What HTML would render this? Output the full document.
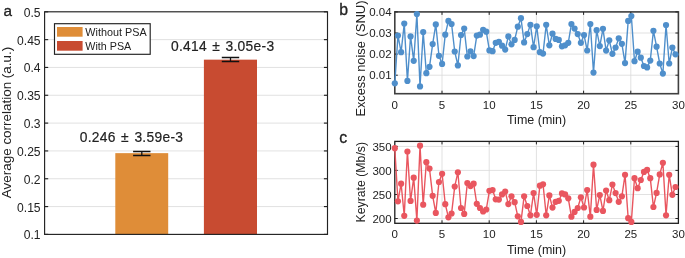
<!DOCTYPE html>
<html><head><meta charset="utf-8"><title>figure</title>
<style>
html,body{margin:0;padding:0;background:#fff;}
body{width:685px;height:258px;overflow:hidden;font-family:"Liberation Sans",sans-serif;}
svg{display:block;will-change:transform;}
text{font-family:"Liberation Sans",sans-serif;fill:#222;}
</style></head><body>
<svg width="685" height="258" viewBox="0 0 685 258">

<g id="panel-a">
<line x1="44.6" x2="327.5" y1="206.58" y2="206.58" stroke="#dcdcdc" stroke-width="0.85"/>
<line x1="44.6" x2="327.5" y1="178.75" y2="178.75" stroke="#dcdcdc" stroke-width="0.85"/>
<line x1="44.6" x2="327.5" y1="150.93" y2="150.93" stroke="#dcdcdc" stroke-width="0.85"/>
<line x1="44.6" x2="327.5" y1="123.10" y2="123.10" stroke="#dcdcdc" stroke-width="0.85"/>
<line x1="44.6" x2="327.5" y1="95.28" y2="95.28" stroke="#dcdcdc" stroke-width="0.85"/>
<line x1="44.6" x2="327.5" y1="67.45" y2="67.45" stroke="#dcdcdc" stroke-width="0.85"/>
<line x1="44.6" x2="327.5" y1="39.63" y2="39.63" stroke="#dcdcdc" stroke-width="0.85"/>
<rect x="115.3" y="153.15" width="52.9" height="81.25" fill="#df8d38"/>
<rect x="203.9" y="59.66" width="53.1" height="174.74" fill="#c84b31"/>
<path d="M133.1 151.50H150.5M133.1 155.50H150.5M141.8 151.50V155.50" stroke="#111" stroke-width="1.3" fill="none"/>
<path d="M221.8 57.50H239.2M221.8 61.50H239.2M230.5 57.50V61.50" stroke="#111" stroke-width="1.3" fill="none"/>
<rect x="44.6" y="11.8" width="282.9" height="222.6" fill="none" stroke="#222" stroke-width="1.15"/>
<line x1="44.6" x2="48.2" y1="234.40" y2="234.40" stroke="#222" stroke-width="1.15"/>
<line x1="327.5" x2="323.9" y1="234.40" y2="234.40" stroke="#222" stroke-width="1.15"/>
<text x="40.6" y="239.40" font-size="12.1" text-anchor="end">0.1</text>
<line x1="44.6" x2="48.2" y1="206.58" y2="206.58" stroke="#222" stroke-width="1.15"/>
<line x1="327.5" x2="323.9" y1="206.58" y2="206.58" stroke="#222" stroke-width="1.15"/>
<text x="40.6" y="211.58" font-size="12.1" text-anchor="end">0.15</text>
<line x1="44.6" x2="48.2" y1="178.75" y2="178.75" stroke="#222" stroke-width="1.15"/>
<line x1="327.5" x2="323.9" y1="178.75" y2="178.75" stroke="#222" stroke-width="1.15"/>
<text x="40.6" y="183.75" font-size="12.1" text-anchor="end">0.2</text>
<line x1="44.6" x2="48.2" y1="150.93" y2="150.93" stroke="#222" stroke-width="1.15"/>
<line x1="327.5" x2="323.9" y1="150.93" y2="150.93" stroke="#222" stroke-width="1.15"/>
<text x="40.6" y="155.93" font-size="12.1" text-anchor="end">0.25</text>
<line x1="44.6" x2="48.2" y1="123.10" y2="123.10" stroke="#222" stroke-width="1.15"/>
<line x1="327.5" x2="323.9" y1="123.10" y2="123.10" stroke="#222" stroke-width="1.15"/>
<text x="40.6" y="128.10" font-size="12.1" text-anchor="end">0.3</text>
<line x1="44.6" x2="48.2" y1="95.28" y2="95.28" stroke="#222" stroke-width="1.15"/>
<line x1="327.5" x2="323.9" y1="95.28" y2="95.28" stroke="#222" stroke-width="1.15"/>
<text x="40.6" y="100.28" font-size="12.1" text-anchor="end">0.35</text>
<line x1="44.6" x2="48.2" y1="67.45" y2="67.45" stroke="#222" stroke-width="1.15"/>
<line x1="327.5" x2="323.9" y1="67.45" y2="67.45" stroke="#222" stroke-width="1.15"/>
<text x="40.6" y="72.45" font-size="12.1" text-anchor="end">0.4</text>
<line x1="44.6" x2="48.2" y1="39.63" y2="39.63" stroke="#222" stroke-width="1.15"/>
<line x1="327.5" x2="323.9" y1="39.63" y2="39.63" stroke="#222" stroke-width="1.15"/>
<text x="40.6" y="44.63" font-size="12.1" text-anchor="end">0.45</text>
<line x1="44.6" x2="48.2" y1="11.80" y2="11.80" stroke="#222" stroke-width="1.15"/>
<line x1="327.5" x2="323.9" y1="11.80" y2="11.80" stroke="#222" stroke-width="1.15"/>
<text x="40.6" y="16.80" font-size="12.1" text-anchor="end">0.5</text>
<text transform="translate(10.7,122.45) rotate(-90)" font-size="13.45" text-anchor="middle">Average correlation (a.u.)</text>
<rect x="54.5" y="23.7" width="95.7" height="30.6" fill="#fff" stroke="#222" stroke-width="1.15"/>
<rect x="57" y="27" width="25.6" height="9.7" fill="#df8d38"/>
<rect x="57" y="41" width="25.6" height="9.7" fill="#c84b31"/>
<text x="85.3" y="36" font-size="11" textLength="61.3" lengthAdjust="spacingAndGlyphs">Without PSA</text>
<text x="85.3" y="50" font-size="11" textLength="46" lengthAdjust="spacingAndGlyphs">With PSA</text>
<text y="142.0" font-size="13.8" letter-spacing="0.3" stroke="#222" stroke-width="0.2"><tspan x="79.7">0.246</tspan><tspan x="121.0">±</tspan><tspan x="134.4">3.59e-3</tspan></text>
<text y="50.5" font-size="13.8" letter-spacing="0.3" stroke="#222" stroke-width="0.2"><tspan x="171.0">0.414</tspan><tspan x="212.2">±</tspan><tspan x="225.5">3.05e-3</tspan></text>
<text x="3.5" y="15.7" font-size="15.3" stroke="#222" stroke-width="0.3">a</text>
</g>
<g id="panel-b">
<line x1="442.00" x2="442.00" y1="11.9" y2="93.7" stroke="#dcdcdc" stroke-width="0.85"/>
<line x1="489.20" x2="489.20" y1="11.9" y2="93.7" stroke="#dcdcdc" stroke-width="0.85"/>
<line x1="536.40" x2="536.40" y1="11.9" y2="93.7" stroke="#dcdcdc" stroke-width="0.85"/>
<line x1="583.60" x2="583.60" y1="11.9" y2="93.7" stroke="#dcdcdc" stroke-width="0.85"/>
<line x1="630.80" x2="630.80" y1="11.9" y2="93.7" stroke="#dcdcdc" stroke-width="0.85"/>
<line x1="394.8" x2="678.4" y1="11.9" y2="11.9" stroke="#dcdcdc" stroke-width="0.85"/>
<line x1="394.8" x2="678.4" y1="33.0" y2="33.0" stroke="#dcdcdc" stroke-width="0.85"/>
<line x1="394.8" x2="678.4" y1="54.1" y2="54.1" stroke="#dcdcdc" stroke-width="0.85"/>
<line x1="394.8" x2="678.4" y1="75.2" y2="75.2" stroke="#dcdcdc" stroke-width="0.85"/>
<clipPath id="clip-panel-b"><rect x="390.8" y="7.9" width="291.59999999999997" height="89.8"/></clipPath>
<rect x="394.8" y="11.9" width="283.59999999999997" height="81.8" fill="none" stroke="#404040" stroke-width="1.6"/>
<text x="394.80" y="109" font-size="11.5" text-anchor="middle">0</text>
<line x1="442.00" x2="442.00" y1="93.7" y2="90.7" stroke="#222" stroke-width="1"/>
<line x1="442.00" x2="442.00" y1="11.9" y2="14.9" stroke="#222" stroke-width="1"/>
<text x="442.00" y="109" font-size="11.5" text-anchor="middle">5</text>
<line x1="489.20" x2="489.20" y1="93.7" y2="90.7" stroke="#222" stroke-width="1"/>
<line x1="489.20" x2="489.20" y1="11.9" y2="14.9" stroke="#222" stroke-width="1"/>
<text x="489.20" y="109" font-size="11.5" text-anchor="middle">10</text>
<line x1="536.40" x2="536.40" y1="93.7" y2="90.7" stroke="#222" stroke-width="1"/>
<line x1="536.40" x2="536.40" y1="11.9" y2="14.9" stroke="#222" stroke-width="1"/>
<text x="536.40" y="109" font-size="11.5" text-anchor="middle">15</text>
<line x1="583.60" x2="583.60" y1="93.7" y2="90.7" stroke="#222" stroke-width="1"/>
<line x1="583.60" x2="583.60" y1="11.9" y2="14.9" stroke="#222" stroke-width="1"/>
<text x="583.60" y="109" font-size="11.5" text-anchor="middle">20</text>
<line x1="630.80" x2="630.80" y1="93.7" y2="90.7" stroke="#222" stroke-width="1"/>
<line x1="630.80" x2="630.80" y1="11.9" y2="14.9" stroke="#222" stroke-width="1"/>
<text x="630.80" y="109" font-size="11.5" text-anchor="middle">25</text>
<text x="678.40" y="109" font-size="11.5" text-anchor="middle">30</text>
<line x1="394.8" x2="397.8" y1="11.9" y2="11.9" stroke="#222" stroke-width="1"/>
<line x1="678.4" x2="675.4" y1="11.9" y2="11.9" stroke="#222" stroke-width="1"/>
<text x="391.6" y="16.05" font-size="11.5" text-anchor="end">0.04</text>
<line x1="394.8" x2="397.8" y1="33.0" y2="33.0" stroke="#222" stroke-width="1"/>
<line x1="678.4" x2="675.4" y1="33.0" y2="33.0" stroke="#222" stroke-width="1"/>
<text x="391.6" y="37.15" font-size="11.5" text-anchor="end">0.03</text>
<line x1="394.8" x2="397.8" y1="54.1" y2="54.1" stroke="#222" stroke-width="1"/>
<line x1="678.4" x2="675.4" y1="54.1" y2="54.1" stroke="#222" stroke-width="1"/>
<text x="391.6" y="58.25" font-size="11.5" text-anchor="end">0.02</text>
<line x1="394.8" x2="397.8" y1="75.2" y2="75.2" stroke="#222" stroke-width="1"/>
<line x1="678.4" x2="675.4" y1="75.2" y2="75.2" stroke="#222" stroke-width="1"/>
<text x="391.6" y="79.35" font-size="11.5" text-anchor="end">0.01</text>
<polyline points="394.80,83.30 397.95,35.60 401.11,52.20 404.26,23.60 407.42,80.90 410.57,36.40 413.72,60.80 416.88,14.10 420.03,86.40 423.19,32.10 426.34,73.20 429.49,66.80 432.65,44.10 435.80,24.40 438.96,55.80 442.11,63.90 445.26,34.70 448.42,20.90 451.57,24.00 454.72,51.50 457.88,65.40 461.03,35.00 464.19,28.60 467.34,56.50 470.49,51.30 473.65,56.10 476.80,35.60 479.96,34.70 483.11,29.80 486.26,31.70 489.42,50.40 492.57,51.20 495.73,42.80 498.88,41.80 502.03,45.70 505.19,49.60 508.34,36.40 511.50,44.30 514.65,39.90 517.80,26.70 520.96,18.20 524.11,42.40 527.27,34.10 530.42,24.80 533.57,47.20 536.73,26.30 539.88,52.20 543.03,53.60 546.19,24.80 549.34,45.30 552.50,33.70 555.65,38.90 558.80,39.90 561.96,46.30 565.11,45.30 568.27,42.80 571.42,24.00 574.57,28.60 577.73,34.10 580.88,42.80 584.04,35.00 587.19,50.50 590.34,24.00 593.50,72.60 596.65,30.20 599.81,46.10 602.96,28.80 606.11,50.60 609.27,40.30 612.42,53.80 615.58,47.60 618.73,38.30 621.88,43.80 625.04,63.10 628.19,20.90 631.34,16.00 634.50,61.20 637.65,51.70 640.81,57.70 643.96,66.00 647.11,67.40 650.27,60.60 653.42,30.80 656.58,46.70 659.73,63.50 662.88,73.60 666.04,25.00 669.19,63.50 672.35,47.60 675.50,54.30" fill="none" stroke="#4f8fcb" stroke-width="1.4" stroke-linejoin="round"/>
<circle cx="394.80" cy="83.30" r="3.1" fill="#4f8fcb"/>
<circle cx="397.95" cy="35.60" r="3.1" fill="#4f8fcb"/>
<circle cx="401.11" cy="52.20" r="3.1" fill="#4f8fcb"/>
<circle cx="404.26" cy="23.60" r="3.1" fill="#4f8fcb"/>
<circle cx="407.42" cy="80.90" r="3.1" fill="#4f8fcb"/>
<circle cx="410.57" cy="36.40" r="3.1" fill="#4f8fcb"/>
<circle cx="413.72" cy="60.80" r="3.1" fill="#4f8fcb"/>
<circle cx="416.88" cy="14.10" r="3.1" fill="#4f8fcb"/>
<circle cx="420.03" cy="86.40" r="3.1" fill="#4f8fcb"/>
<circle cx="423.19" cy="32.10" r="3.1" fill="#4f8fcb"/>
<circle cx="426.34" cy="73.20" r="3.1" fill="#4f8fcb"/>
<circle cx="429.49" cy="66.80" r="3.1" fill="#4f8fcb"/>
<circle cx="432.65" cy="44.10" r="3.1" fill="#4f8fcb"/>
<circle cx="435.80" cy="24.40" r="3.1" fill="#4f8fcb"/>
<circle cx="438.96" cy="55.80" r="3.1" fill="#4f8fcb"/>
<circle cx="442.11" cy="63.90" r="3.1" fill="#4f8fcb"/>
<circle cx="445.26" cy="34.70" r="3.1" fill="#4f8fcb"/>
<circle cx="448.42" cy="20.90" r="3.1" fill="#4f8fcb"/>
<circle cx="451.57" cy="24.00" r="3.1" fill="#4f8fcb"/>
<circle cx="454.72" cy="51.50" r="3.1" fill="#4f8fcb"/>
<circle cx="457.88" cy="65.40" r="3.1" fill="#4f8fcb"/>
<circle cx="461.03" cy="35.00" r="3.1" fill="#4f8fcb"/>
<circle cx="464.19" cy="28.60" r="3.1" fill="#4f8fcb"/>
<circle cx="467.34" cy="56.50" r="3.1" fill="#4f8fcb"/>
<circle cx="470.49" cy="51.30" r="3.1" fill="#4f8fcb"/>
<circle cx="473.65" cy="56.10" r="3.1" fill="#4f8fcb"/>
<circle cx="476.80" cy="35.60" r="3.1" fill="#4f8fcb"/>
<circle cx="479.96" cy="34.70" r="3.1" fill="#4f8fcb"/>
<circle cx="483.11" cy="29.80" r="3.1" fill="#4f8fcb"/>
<circle cx="486.26" cy="31.70" r="3.1" fill="#4f8fcb"/>
<circle cx="489.42" cy="50.40" r="3.1" fill="#4f8fcb"/>
<circle cx="492.57" cy="51.20" r="3.1" fill="#4f8fcb"/>
<circle cx="495.73" cy="42.80" r="3.1" fill="#4f8fcb"/>
<circle cx="498.88" cy="41.80" r="3.1" fill="#4f8fcb"/>
<circle cx="502.03" cy="45.70" r="3.1" fill="#4f8fcb"/>
<circle cx="505.19" cy="49.60" r="3.1" fill="#4f8fcb"/>
<circle cx="508.34" cy="36.40" r="3.1" fill="#4f8fcb"/>
<circle cx="511.50" cy="44.30" r="3.1" fill="#4f8fcb"/>
<circle cx="514.65" cy="39.90" r="3.1" fill="#4f8fcb"/>
<circle cx="517.80" cy="26.70" r="3.1" fill="#4f8fcb"/>
<circle cx="520.96" cy="18.20" r="3.1" fill="#4f8fcb"/>
<circle cx="524.11" cy="42.40" r="3.1" fill="#4f8fcb"/>
<circle cx="527.27" cy="34.10" r="3.1" fill="#4f8fcb"/>
<circle cx="530.42" cy="24.80" r="3.1" fill="#4f8fcb"/>
<circle cx="533.57" cy="47.20" r="3.1" fill="#4f8fcb"/>
<circle cx="536.73" cy="26.30" r="3.1" fill="#4f8fcb"/>
<circle cx="539.88" cy="52.20" r="3.1" fill="#4f8fcb"/>
<circle cx="543.03" cy="53.60" r="3.1" fill="#4f8fcb"/>
<circle cx="546.19" cy="24.80" r="3.1" fill="#4f8fcb"/>
<circle cx="549.34" cy="45.30" r="3.1" fill="#4f8fcb"/>
<circle cx="552.50" cy="33.70" r="3.1" fill="#4f8fcb"/>
<circle cx="555.65" cy="38.90" r="3.1" fill="#4f8fcb"/>
<circle cx="558.80" cy="39.90" r="3.1" fill="#4f8fcb"/>
<circle cx="561.96" cy="46.30" r="3.1" fill="#4f8fcb"/>
<circle cx="565.11" cy="45.30" r="3.1" fill="#4f8fcb"/>
<circle cx="568.27" cy="42.80" r="3.1" fill="#4f8fcb"/>
<circle cx="571.42" cy="24.00" r="3.1" fill="#4f8fcb"/>
<circle cx="574.57" cy="28.60" r="3.1" fill="#4f8fcb"/>
<circle cx="577.73" cy="34.10" r="3.1" fill="#4f8fcb"/>
<circle cx="580.88" cy="42.80" r="3.1" fill="#4f8fcb"/>
<circle cx="584.04" cy="35.00" r="3.1" fill="#4f8fcb"/>
<circle cx="587.19" cy="50.50" r="3.1" fill="#4f8fcb"/>
<circle cx="590.34" cy="24.00" r="3.1" fill="#4f8fcb"/>
<circle cx="593.50" cy="72.60" r="3.1" fill="#4f8fcb"/>
<circle cx="596.65" cy="30.20" r="3.1" fill="#4f8fcb"/>
<circle cx="599.81" cy="46.10" r="3.1" fill="#4f8fcb"/>
<circle cx="602.96" cy="28.80" r="3.1" fill="#4f8fcb"/>
<circle cx="606.11" cy="50.60" r="3.1" fill="#4f8fcb"/>
<circle cx="609.27" cy="40.30" r="3.1" fill="#4f8fcb"/>
<circle cx="612.42" cy="53.80" r="3.1" fill="#4f8fcb"/>
<circle cx="615.58" cy="47.60" r="3.1" fill="#4f8fcb"/>
<circle cx="618.73" cy="38.30" r="3.1" fill="#4f8fcb"/>
<circle cx="621.88" cy="43.80" r="3.1" fill="#4f8fcb"/>
<circle cx="625.04" cy="63.10" r="3.1" fill="#4f8fcb"/>
<circle cx="628.19" cy="20.90" r="3.1" fill="#4f8fcb"/>
<circle cx="631.34" cy="16.00" r="3.1" fill="#4f8fcb"/>
<circle cx="634.50" cy="61.20" r="3.1" fill="#4f8fcb"/>
<circle cx="637.65" cy="51.70" r="3.1" fill="#4f8fcb"/>
<circle cx="640.81" cy="57.70" r="3.1" fill="#4f8fcb"/>
<circle cx="643.96" cy="66.00" r="3.1" fill="#4f8fcb"/>
<circle cx="647.11" cy="67.40" r="3.1" fill="#4f8fcb"/>
<circle cx="650.27" cy="60.60" r="3.1" fill="#4f8fcb"/>
<circle cx="653.42" cy="30.80" r="3.1" fill="#4f8fcb"/>
<circle cx="656.58" cy="46.70" r="3.1" fill="#4f8fcb"/>
<circle cx="659.73" cy="63.50" r="3.1" fill="#4f8fcb"/>
<circle cx="662.88" cy="73.60" r="3.1" fill="#4f8fcb"/>
<circle cx="666.04" cy="25.00" r="3.1" fill="#4f8fcb"/>
<circle cx="669.19" cy="63.50" r="3.1" fill="#4f8fcb"/>
<circle cx="672.35" cy="47.60" r="3.1" fill="#4f8fcb"/>
<circle cx="675.50" cy="54.30" r="3.1" fill="#4f8fcb"/>
<text x="536.60" y="124.2" font-size="12.5" text-anchor="middle">Time (min)</text>
<text transform="translate(364.9,116.6) rotate(-90)" font-size="13" textLength="75.4" lengthAdjust="spacingAndGlyphs">Excess noise</text>
<text transform="translate(364.9,36.7) rotate(-90)" font-size="13" textLength="36.4" lengthAdjust="spacingAndGlyphs">(SNU)</text>
<text x="339.2" y="15.1" font-size="15.8" stroke="#222" stroke-width="0.3">b</text>
</g>
<g id="panel-c">
<line x1="442.00" x2="442.00" y1="141.4" y2="223.3" stroke="#dcdcdc" stroke-width="0.85"/>
<line x1="489.20" x2="489.20" y1="141.4" y2="223.3" stroke="#dcdcdc" stroke-width="0.85"/>
<line x1="536.40" x2="536.40" y1="141.4" y2="223.3" stroke="#dcdcdc" stroke-width="0.85"/>
<line x1="583.60" x2="583.60" y1="141.4" y2="223.3" stroke="#dcdcdc" stroke-width="0.85"/>
<line x1="630.80" x2="630.80" y1="141.4" y2="223.3" stroke="#dcdcdc" stroke-width="0.85"/>
<line x1="394.8" x2="678.4" y1="146.4" y2="146.4" stroke="#dcdcdc" stroke-width="0.85"/>
<line x1="394.8" x2="678.4" y1="170.4" y2="170.4" stroke="#dcdcdc" stroke-width="0.85"/>
<line x1="394.8" x2="678.4" y1="194.5" y2="194.5" stroke="#dcdcdc" stroke-width="0.85"/>
<line x1="394.8" x2="678.4" y1="218.5" y2="218.5" stroke="#dcdcdc" stroke-width="0.85"/>
<clipPath id="clip-panel-c"><rect x="390.8" y="137.4" width="291.59999999999997" height="89.9"/></clipPath>
<rect x="394.8" y="141.4" width="283.59999999999997" height="81.9" fill="none" stroke="#1e1e1e" stroke-width="1.3"/>
<text x="394.80" y="238.3" font-size="11.5" text-anchor="middle">0</text>
<line x1="442.00" x2="442.00" y1="223.3" y2="220.3" stroke="#222" stroke-width="1"/>
<line x1="442.00" x2="442.00" y1="141.4" y2="144.4" stroke="#222" stroke-width="1"/>
<text x="442.00" y="238.3" font-size="11.5" text-anchor="middle">5</text>
<line x1="489.20" x2="489.20" y1="223.3" y2="220.3" stroke="#222" stroke-width="1"/>
<line x1="489.20" x2="489.20" y1="141.4" y2="144.4" stroke="#222" stroke-width="1"/>
<text x="489.20" y="238.3" font-size="11.5" text-anchor="middle">10</text>
<line x1="536.40" x2="536.40" y1="223.3" y2="220.3" stroke="#222" stroke-width="1"/>
<line x1="536.40" x2="536.40" y1="141.4" y2="144.4" stroke="#222" stroke-width="1"/>
<text x="536.40" y="238.3" font-size="11.5" text-anchor="middle">15</text>
<line x1="583.60" x2="583.60" y1="223.3" y2="220.3" stroke="#222" stroke-width="1"/>
<line x1="583.60" x2="583.60" y1="141.4" y2="144.4" stroke="#222" stroke-width="1"/>
<text x="583.60" y="238.3" font-size="11.5" text-anchor="middle">20</text>
<line x1="630.80" x2="630.80" y1="223.3" y2="220.3" stroke="#222" stroke-width="1"/>
<line x1="630.80" x2="630.80" y1="141.4" y2="144.4" stroke="#222" stroke-width="1"/>
<text x="630.80" y="238.3" font-size="11.5" text-anchor="middle">25</text>
<text x="678.40" y="238.3" font-size="11.5" text-anchor="middle">30</text>
<line x1="394.8" x2="397.8" y1="146.4" y2="146.4" stroke="#222" stroke-width="1"/>
<line x1="678.4" x2="675.4" y1="146.4" y2="146.4" stroke="#222" stroke-width="1"/>
<text x="391.6" y="150.55" font-size="11.5" text-anchor="end">350</text>
<line x1="394.8" x2="397.8" y1="170.4" y2="170.4" stroke="#222" stroke-width="1"/>
<line x1="678.4" x2="675.4" y1="170.4" y2="170.4" stroke="#222" stroke-width="1"/>
<text x="391.6" y="174.55" font-size="11.5" text-anchor="end">300</text>
<line x1="394.8" x2="397.8" y1="194.5" y2="194.5" stroke="#222" stroke-width="1"/>
<line x1="678.4" x2="675.4" y1="194.5" y2="194.5" stroke="#222" stroke-width="1"/>
<text x="391.6" y="198.65" font-size="11.5" text-anchor="end">250</text>
<line x1="394.8" x2="397.8" y1="218.5" y2="218.5" stroke="#222" stroke-width="1"/>
<line x1="678.4" x2="675.4" y1="218.5" y2="218.5" stroke="#222" stroke-width="1"/>
<text x="391.6" y="222.65" font-size="11.5" text-anchor="end">200</text>
<polyline points="394.80,148.20 397.95,201.30 401.11,183.70 404.26,215.80 407.42,151.50 410.57,200.90 413.72,177.70 416.88,220.60 420.03,145.70 423.19,204.70 426.34,162.20 429.49,168.60 432.65,195.80 435.80,212.90 438.96,182.00 442.11,173.80 445.26,204.20 448.42,217.30 451.57,213.50 454.72,186.60 457.88,172.30 461.03,208.00 464.19,213.90 467.34,183.00 470.49,186.10 473.65,183.70 476.80,203.80 479.96,208.00 483.11,211.50 486.26,209.50 489.42,190.80 492.57,190.10 495.73,199.30 498.88,199.60 502.03,194.40 505.19,191.50 508.34,204.10 511.50,196.30 514.65,202.20 517.80,216.30 520.96,221.90 524.11,196.30 527.27,206.00 530.42,215.30 533.57,193.10 536.73,214.80 539.88,185.70 543.03,184.30 546.19,215.30 549.34,195.40 552.50,207.60 555.65,201.80 558.80,200.80 561.96,193.40 565.11,194.40 568.27,198.30 571.42,216.70 574.57,211.90 577.73,208.00 580.88,197.30 584.04,207.50 587.19,190.00 590.34,216.70 593.50,164.70 596.65,209.90 599.81,195.00 602.96,210.90 606.11,190.50 609.27,200.20 612.42,184.60 615.58,193.10 618.73,201.80 621.88,196.30 625.04,174.80 628.19,218.20 631.34,221.90 634.50,178.20 637.65,188.20 640.81,180.00 643.96,171.90 647.11,169.90 650.27,178.20 653.42,207.00 656.58,192.90 659.73,174.40 662.88,162.80 666.04,215.30 669.19,174.80 672.35,194.80 675.50,187.00" fill="none" stroke="#e9565f" stroke-width="1.4" stroke-linejoin="round"/>
<circle cx="394.80" cy="148.20" r="3.1" fill="#e9565f"/>
<circle cx="397.95" cy="201.30" r="3.1" fill="#e9565f"/>
<circle cx="401.11" cy="183.70" r="3.1" fill="#e9565f"/>
<circle cx="404.26" cy="215.80" r="3.1" fill="#e9565f"/>
<circle cx="407.42" cy="151.50" r="3.1" fill="#e9565f"/>
<circle cx="410.57" cy="200.90" r="3.1" fill="#e9565f"/>
<circle cx="413.72" cy="177.70" r="3.1" fill="#e9565f"/>
<circle cx="416.88" cy="220.60" r="3.1" fill="#e9565f"/>
<circle cx="420.03" cy="145.70" r="3.1" fill="#e9565f"/>
<circle cx="423.19" cy="204.70" r="3.1" fill="#e9565f"/>
<circle cx="426.34" cy="162.20" r="3.1" fill="#e9565f"/>
<circle cx="429.49" cy="168.60" r="3.1" fill="#e9565f"/>
<circle cx="432.65" cy="195.80" r="3.1" fill="#e9565f"/>
<circle cx="435.80" cy="212.90" r="3.1" fill="#e9565f"/>
<circle cx="438.96" cy="182.00" r="3.1" fill="#e9565f"/>
<circle cx="442.11" cy="173.80" r="3.1" fill="#e9565f"/>
<circle cx="445.26" cy="204.20" r="3.1" fill="#e9565f"/>
<circle cx="448.42" cy="217.30" r="3.1" fill="#e9565f"/>
<circle cx="451.57" cy="213.50" r="3.1" fill="#e9565f"/>
<circle cx="454.72" cy="186.60" r="3.1" fill="#e9565f"/>
<circle cx="457.88" cy="172.30" r="3.1" fill="#e9565f"/>
<circle cx="461.03" cy="208.00" r="3.1" fill="#e9565f"/>
<circle cx="464.19" cy="213.90" r="3.1" fill="#e9565f"/>
<circle cx="467.34" cy="183.00" r="3.1" fill="#e9565f"/>
<circle cx="470.49" cy="186.10" r="3.1" fill="#e9565f"/>
<circle cx="473.65" cy="183.70" r="3.1" fill="#e9565f"/>
<circle cx="476.80" cy="203.80" r="3.1" fill="#e9565f"/>
<circle cx="479.96" cy="208.00" r="3.1" fill="#e9565f"/>
<circle cx="483.11" cy="211.50" r="3.1" fill="#e9565f"/>
<circle cx="486.26" cy="209.50" r="3.1" fill="#e9565f"/>
<circle cx="489.42" cy="190.80" r="3.1" fill="#e9565f"/>
<circle cx="492.57" cy="190.10" r="3.1" fill="#e9565f"/>
<circle cx="495.73" cy="199.30" r="3.1" fill="#e9565f"/>
<circle cx="498.88" cy="199.60" r="3.1" fill="#e9565f"/>
<circle cx="502.03" cy="194.40" r="3.1" fill="#e9565f"/>
<circle cx="505.19" cy="191.50" r="3.1" fill="#e9565f"/>
<circle cx="508.34" cy="204.10" r="3.1" fill="#e9565f"/>
<circle cx="511.50" cy="196.30" r="3.1" fill="#e9565f"/>
<circle cx="514.65" cy="202.20" r="3.1" fill="#e9565f"/>
<circle cx="517.80" cy="216.30" r="3.1" fill="#e9565f"/>
<circle cx="520.96" cy="221.90" r="3.1" fill="#e9565f"/>
<circle cx="524.11" cy="196.30" r="3.1" fill="#e9565f"/>
<circle cx="527.27" cy="206.00" r="3.1" fill="#e9565f"/>
<circle cx="530.42" cy="215.30" r="3.1" fill="#e9565f"/>
<circle cx="533.57" cy="193.10" r="3.1" fill="#e9565f"/>
<circle cx="536.73" cy="214.80" r="3.1" fill="#e9565f"/>
<circle cx="539.88" cy="185.70" r="3.1" fill="#e9565f"/>
<circle cx="543.03" cy="184.30" r="3.1" fill="#e9565f"/>
<circle cx="546.19" cy="215.30" r="3.1" fill="#e9565f"/>
<circle cx="549.34" cy="195.40" r="3.1" fill="#e9565f"/>
<circle cx="552.50" cy="207.60" r="3.1" fill="#e9565f"/>
<circle cx="555.65" cy="201.80" r="3.1" fill="#e9565f"/>
<circle cx="558.80" cy="200.80" r="3.1" fill="#e9565f"/>
<circle cx="561.96" cy="193.40" r="3.1" fill="#e9565f"/>
<circle cx="565.11" cy="194.40" r="3.1" fill="#e9565f"/>
<circle cx="568.27" cy="198.30" r="3.1" fill="#e9565f"/>
<circle cx="571.42" cy="216.70" r="3.1" fill="#e9565f"/>
<circle cx="574.57" cy="211.90" r="3.1" fill="#e9565f"/>
<circle cx="577.73" cy="208.00" r="3.1" fill="#e9565f"/>
<circle cx="580.88" cy="197.30" r="3.1" fill="#e9565f"/>
<circle cx="584.04" cy="207.50" r="3.1" fill="#e9565f"/>
<circle cx="587.19" cy="190.00" r="3.1" fill="#e9565f"/>
<circle cx="590.34" cy="216.70" r="3.1" fill="#e9565f"/>
<circle cx="593.50" cy="164.70" r="3.1" fill="#e9565f"/>
<circle cx="596.65" cy="209.90" r="3.1" fill="#e9565f"/>
<circle cx="599.81" cy="195.00" r="3.1" fill="#e9565f"/>
<circle cx="602.96" cy="210.90" r="3.1" fill="#e9565f"/>
<circle cx="606.11" cy="190.50" r="3.1" fill="#e9565f"/>
<circle cx="609.27" cy="200.20" r="3.1" fill="#e9565f"/>
<circle cx="612.42" cy="184.60" r="3.1" fill="#e9565f"/>
<circle cx="615.58" cy="193.10" r="3.1" fill="#e9565f"/>
<circle cx="618.73" cy="201.80" r="3.1" fill="#e9565f"/>
<circle cx="621.88" cy="196.30" r="3.1" fill="#e9565f"/>
<circle cx="625.04" cy="174.80" r="3.1" fill="#e9565f"/>
<circle cx="628.19" cy="218.20" r="3.1" fill="#e9565f"/>
<circle cx="631.34" cy="221.90" r="3.1" fill="#e9565f"/>
<circle cx="634.50" cy="178.20" r="3.1" fill="#e9565f"/>
<circle cx="637.65" cy="188.20" r="3.1" fill="#e9565f"/>
<circle cx="640.81" cy="180.00" r="3.1" fill="#e9565f"/>
<circle cx="643.96" cy="171.90" r="3.1" fill="#e9565f"/>
<circle cx="647.11" cy="169.90" r="3.1" fill="#e9565f"/>
<circle cx="650.27" cy="178.20" r="3.1" fill="#e9565f"/>
<circle cx="653.42" cy="207.00" r="3.1" fill="#e9565f"/>
<circle cx="656.58" cy="192.90" r="3.1" fill="#e9565f"/>
<circle cx="659.73" cy="174.40" r="3.1" fill="#e9565f"/>
<circle cx="662.88" cy="162.80" r="3.1" fill="#e9565f"/>
<circle cx="666.04" cy="215.30" r="3.1" fill="#e9565f"/>
<circle cx="669.19" cy="174.80" r="3.1" fill="#e9565f"/>
<circle cx="672.35" cy="194.80" r="3.1" fill="#e9565f"/>
<circle cx="675.50" cy="187.00" r="3.1" fill="#e9565f"/>
<text x="536.60" y="254.2" font-size="12.5" text-anchor="middle">Time (min)</text>
<text transform="translate(365.3,182.2) rotate(-90)" font-size="13" textLength="80.5" lengthAdjust="spacingAndGlyphs" x="-40.25">Keyrate (Mb/s)</text>
<text x="339.2" y="143.1" font-size="15.8" stroke="#222" stroke-width="0.3">c</text>
</g>
</svg></body></html>
